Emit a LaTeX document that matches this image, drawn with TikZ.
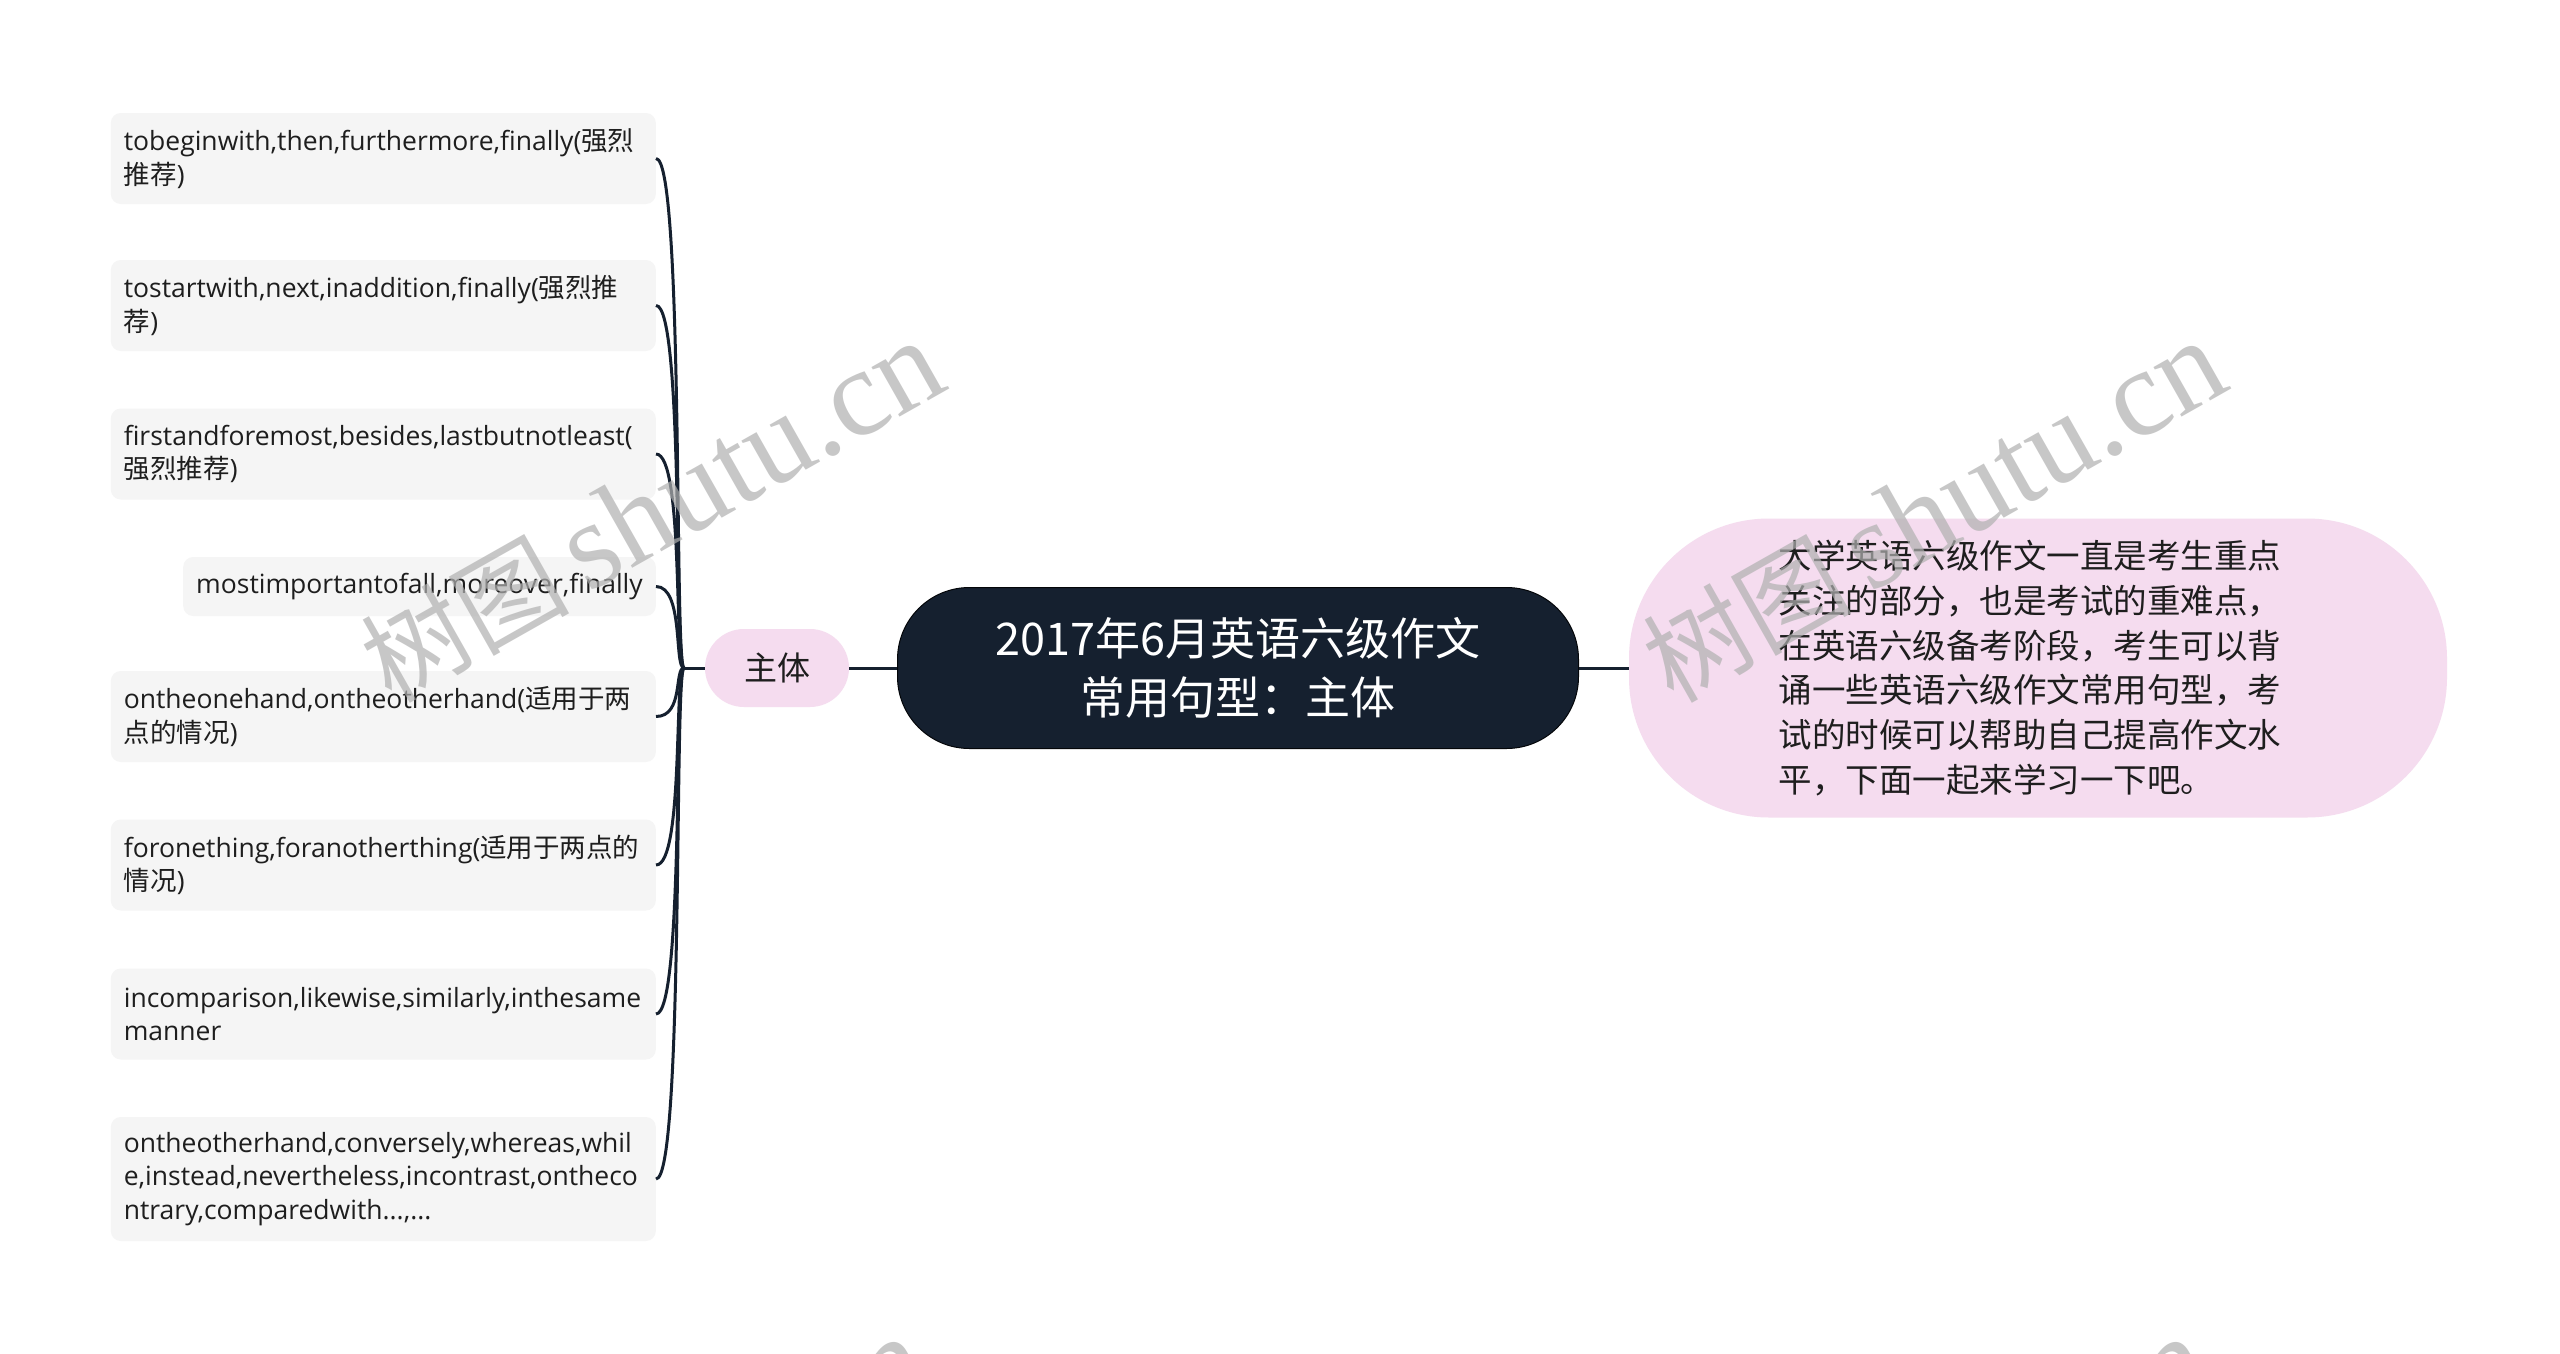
\documentclass[tikz,border=0pt]{standalone}
\usepackage{fontspec}
\setmainfont{Open Sans}
\newfontfamily\cjk{Noto Sans CJK SC}
\newfontfamily\wmserif{Liberation Serif}
\definecolor{navy}{HTML}{15202F}
\definecolor{pinkf}{HTML}{F5DCEF}
\definecolor{leafgray}{HTML}{F5F5F5}
\definecolor{txt}{HTML}{1E1E1E}
\definecolor{wm}{HTML}{B0B0B0}
\tikzset{
  leaf/.style={rectangle, rounded corners=10pt, fill=leafgray, anchor=east,
    inner xsep=13pt, inner ysep=0pt, text=txt, align=left,
    font=\fontsize{26.5}{33.5}\selectfont},
  wide/.style={text width=519pt},
  h1/.style={minimum height=59pt},
  h2/.style={minimum height=91pt},
  h3/.style={minimum height=124pt},
  link/.style={draw=navy, line width=3pt},
  curve/.style={draw=navy, line width=3pt},
  pinknode/.style={rectangle, fill=pinkf, text=txt},
  wmark/.style={text=wm, opacity=0.7, rotate=29.5}
}
\newcommand{\wmtext}{{\cjk\fontsize{104}{104}\selectfont 树图}{\wmserif\fontsize{124}{124}\selectfont\hspace{18pt}shutu.cn}}
\begin{document}
\begin{tikzpicture}[x=1pt, y=-1pt]
\useasboundingbox (0,0) rectangle (2560,1354);
\fill[white] (0,0) rectangle (2560,1354);

% leaves
\node[leaf, wide, h2] (l1) at (656,158.5) {tobeginwith,then,furthermore,finally({\cjk 强烈}\\{\cjk 推荐})};
\node[leaf, wide, h2] (l2) at (656,305.5) {tostartwith,next,inaddition,finally({\cjk 强烈推}\\{\cjk 荐})};
\node[leaf, wide, h2] (l3) at (656,454) {firstandforemost,besides,lastbutnotleast(\\{\cjk 强烈推荐})};
\node[leaf, h1] (l4) at (656,586.5) {mostimportantofall,moreover,finally};
\node[leaf, wide, h2] (l5) at (656,716.5) {ontheonehand,ontheotherhand({\cjk 适用于两}\\{\cjk 点的情况})};
\node[leaf, wide, h2] (l6) at (656,865) {foronething,foranotherthing({\cjk 适用于两点的}\\{\cjk 情况})};
\node[leaf, wide, h2] (l7) at (656,1014) {incomparison,likewise,similarly,inthesame\\manner};
\node[leaf, wide, h3] (l8) at (656,1179) {ontheotherhand,conversely,whereas,whil\\e,instead,nevertheless,incontrast,ontheco\\ntrary,comparedwith...,...};

% main nodes
\node[pinknode, minimum width=144pt, minimum height=78pt, rounded corners=39pt,
  font=\cjk\fontsize{33}{40}\selectfont] (zt) at (777,668) {主体};
\node[rectangle, fill=navy, draw=black!80!navy, line width=1pt, minimum width=681pt, minimum height=161pt,
  rounded corners=72pt, text=white, align=center,
  font=\cjk\fontsize{45}{59}\selectfont] (root) at (1238,668) {2017年6月英语六级作文\\常用句型：主体};
\node[pinknode, minimum width=818pt, minimum height=299pt, rounded corners=140pt] (desc) at (2038,668) {};
\node[text=txt, align=left, inner sep=0pt, font=\cjk\fontsize{33.5}{44.7}\selectfont] (desctext) at (2030,668)
  {大学英语六级作文一直是考生重点\\关注的部分，也是考试的重难点，\\在英语六级备考阶段，考生可以背\\诵一些英语六级作文常用句型，考\\试的时候可以帮助自己提高作文水\\平，下面一起来学习一下吧。};

% connectors
\coordinate (j) at (684,668);
\foreach \n in {l1,l2,l3,l4,l5,l6,l7,l8}
  \draw[curve] (\n.east) .. controls +(28,0) and +(-10,0) .. (j);
\draw[link] (j) -- (zt.west);
\draw[link] (zt.east) -- (root.west);
\draw[link] (root.east) -- (desc.west);

% watermarks
\begin{scope}
\clip (0,0) rectangle (2560,1354);
\node[wmark] (w1) at (652,512) {\wmtext};
\node[wmark] (w2) at (1934,512) {\wmtext};
\node[wmark] (w3) at (636,1508) {\wmtext};
\node[wmark] (w4) at (1918,1508) {\wmtext};
\end{scope}
\end{tikzpicture}
\end{document}
